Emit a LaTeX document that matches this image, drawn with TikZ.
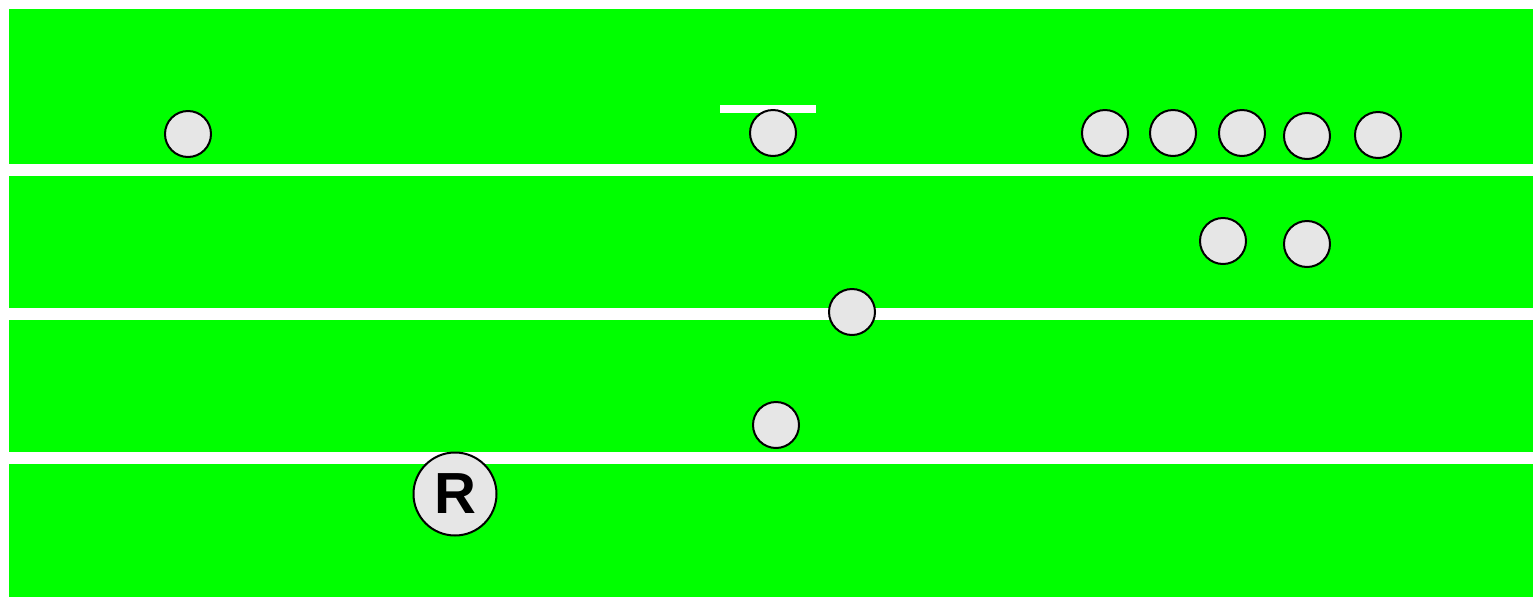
\documentclass[tikz,border=0pt]{standalone}
\usepackage{fontspec}
\setmainfont{Liberation Sans}
\begin{document}
\begin{tikzpicture}[x=1pt,y=-1pt,
  band/.style={fill={rgb,255:red,0;green,255;blue,0}, draw=none},
  player/.style={circle, draw=black, line width=2pt, fill={rgb,255:red,230;green,230;blue,230}, minimum size=46pt, inner sep=0pt},
  bigplayer/.style={player, minimum size=83pt, font=\fontsize{58}{58}\selectfont\bfseries}]
\useasboundingbox (0,0) rectangle (1540,606);
\fill[white] (0,0) rectangle (1540,606);
\fill[band] (9,9) rectangle (1533,164);
\fill[band] (9,176) rectangle (1533,308);
\fill[band] (9,320) rectangle (1533,452);
\fill[band] (9,464) rectangle (1533,597);
\fill[white] (720,105) rectangle (816,112.5);
\node[player] (p1) at (188,134) {};
\node[player] (p2) at (773,133) {};
\node[player] (p3) at (1105,133) {};
\node[player] (p4) at (1173,133) {};
\node[player] (p5) at (1242,133) {};
\node[player] (p6) at (1307,136) {};
\node[player] (p7) at (1378,135) {};
\node[player] (p8) at (1223,241) {};
\node[player] (p9) at (1307,244) {};
\node[player] (p10) at (852,312) {};
\node[player] (p11) at (776,425) {};
\node[bigplayer] (r) at (455,494) {R};
\end{tikzpicture}
\end{document}
